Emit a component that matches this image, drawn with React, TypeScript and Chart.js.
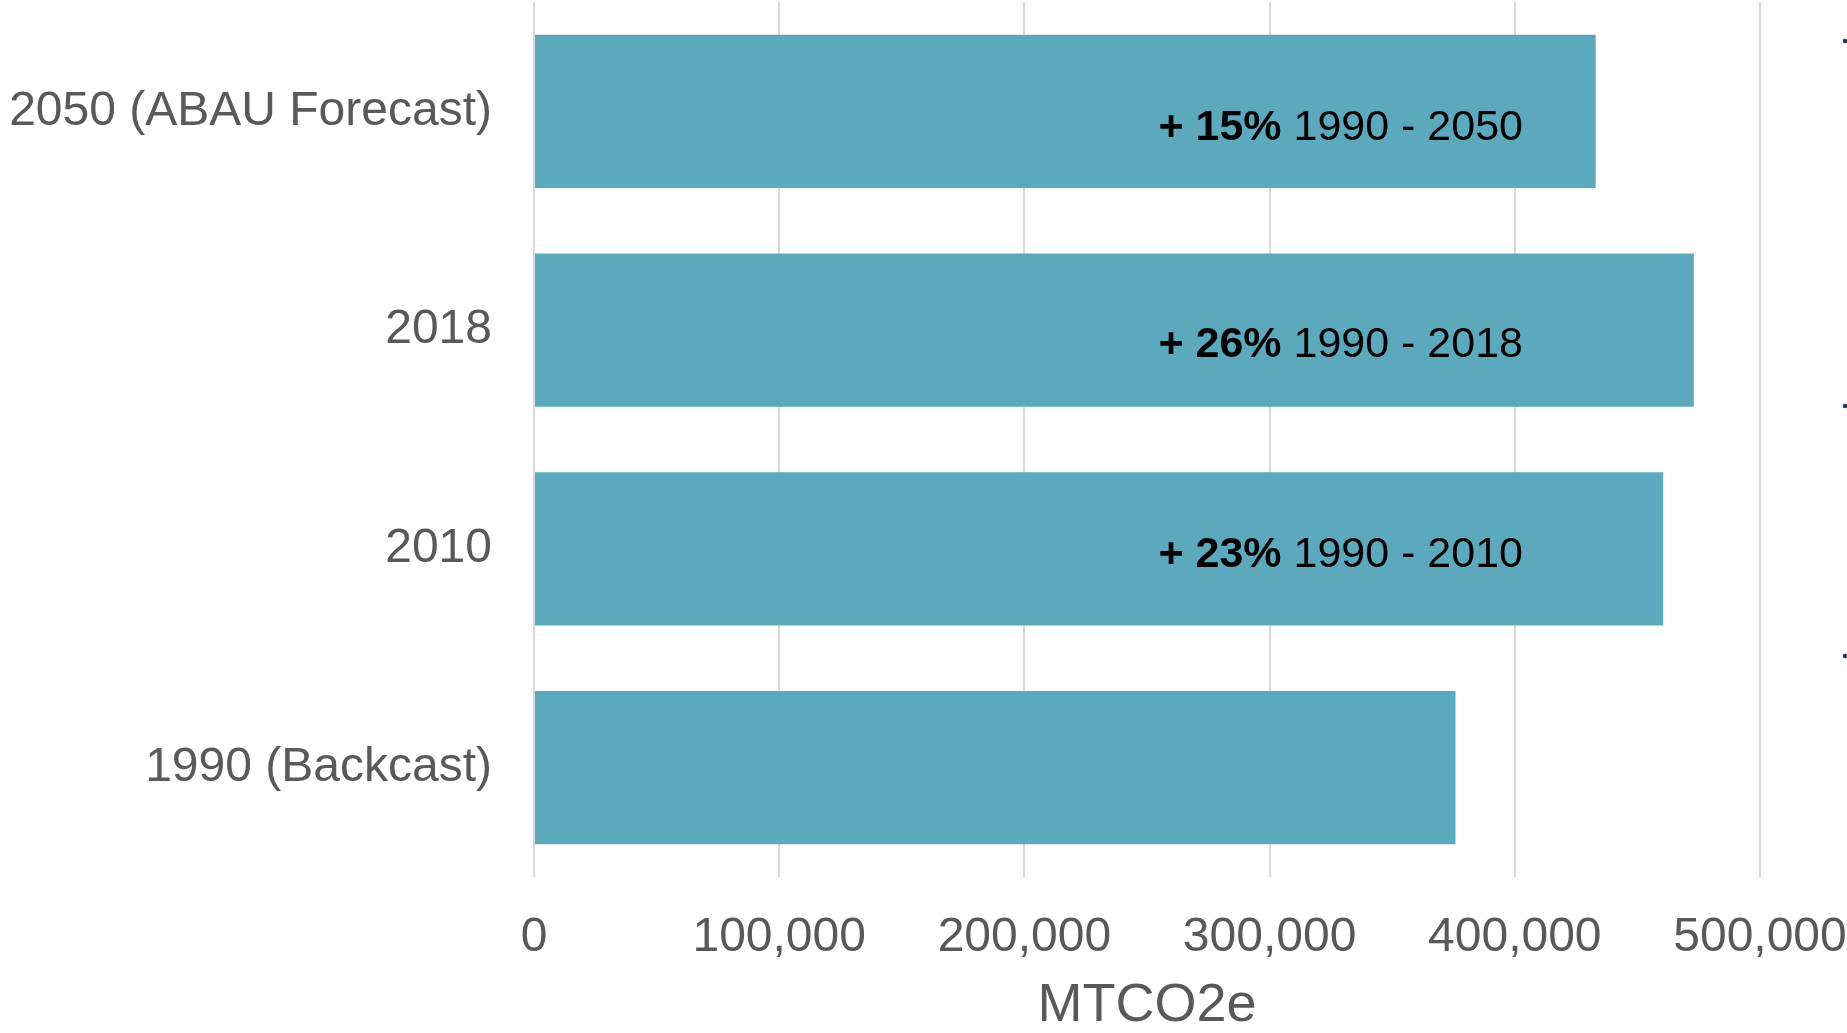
import React, { useEffect, useRef } from 'react';
import { Chart, registerables } from 'chart.js';

Chart.register(...registerables);

const categories = ['2050 (ABAU Forecast)', '2018', '2010', '1990 (Backcast)'];
const emissions = [433000, 473000, 460500, 375800];
const changeBold = ['+ 15%', '+ 26%', '+ 23%', ''];
const changeRange = ['1990 - 2050', '1990 - 2018', '1990 - 2010', ''];
const xTicks = [0, 100000, 200000, 300000, 400000, 500000];
const axisTitle = 'MTCO2e';

const FONT = '"Liberation Sans", Arial, Helvetica, sans-serif';
const W = 1847;
const H = 1033;

const annotationPlugin = {
  id: 'changeLabels',
  afterDatasetsDraw(chart: any, _args: any, opts: any) {
    const ctx = chart.ctx;
    const meta = chart.getDatasetMeta(0);
    const xs = chart.scales.x;
    const cx = xs.getPixelForValue(opts.centerValue);
    meta.data.forEach((bar: any, i: number) => {
      const b = changeBold[i];
      const r = changeRange[i];
      if (!b) return;
      ctx.save();
      ctx.fillStyle = '#000000';
      ctx.textBaseline = 'alphabetic';
      ctx.textAlign = 'left';
      const size = opts.size;
      ctx.font = `bold ${size}px ${FONT}`;
      const bw = ctx.measureText(b + ' ').width;
      ctx.font = `${size}px ${FONT}`;
      const rw = ctx.measureText(r).width;
      const total = bw + rw;
      const x0 = cx - total / 2;
      const y = bar.y + opts.dy[i];
      ctx.font = `bold ${size}px ${FONT}`;
      ctx.fillText(b + ' ', x0, y);
      ctx.font = `${size}px ${FONT}`;
      ctx.fillText(r, x0 + bw, y);
      ctx.restore();
    });
  },
};

const edgeDotsPlugin = {
  id: 'edgeDots',
  afterDraw(chart: any, _args: any, opts: any) {
    const ctx = chart.ctx;
    ctx.save();
    ctx.fillStyle = '#2a3350';
    (opts.ys as number[]).forEach((y) => {
      ctx.beginPath();
      ctx.arc(opts.x, y, 2.3, 0, Math.PI * 2);
      ctx.fill();
    });
    ctx.restore();
  },
};

export default function App() {
  const canvasRef = useRef<HTMLCanvasElement | null>(null);

  useEffect(() => {
    const canvas = canvasRef.current;
    if (!canvas) return;
    const chart = new Chart(canvas, {
      type: 'bar',
      data: {
        labels: categories,
        datasets: [
          {
            data: emissions,
            backgroundColor: '#5CA9BD',
            borderWidth: 0,
            barPercentage: 0.7,
            categoryPercentage: 1,
          },
        ],
      },
      plugins: [annotationPlugin, edgeDotsPlugin],
      options: {
        indexAxis: 'y',
        animation: false,
        responsive: false,
        devicePixelRatio: 1,
        layout: { padding: { top: 2, right: 87, left: 0, bottom: 0 } },
        plugins: {
          legend: { display: false },
          tooltip: { enabled: false },
          changeLabels: { centerValue: 329000, size: 43, dy: [28.5, 26.5, 18, 0] },
          edgeDots: { x: 1845, ys: [41, 406, 656] },
        } as any,
        scales: {
          x: {
            type: 'linear',
            min: 0,
            max: 500000,
            afterBuildTicks: (s: any) => {
              s.ticks = xTicks.map((v) => ({ value: v }));
            },
            afterFit: (s: any) => {
              s.height = 156;
              s.paddingLeft = 0;
              s.paddingRight = 0;
            },
            grid: { color: '#D9D9D9', lineWidth: 2, drawTicks: false },
            border: { display: false },
            ticks: {
              color: '#595959',
              font: { family: FONT, size: 48 },
              padding: 32,
              maxRotation: 0,
              autoSkip: false,
              callback: (v: any) => Number(v).toLocaleString('en-US'),
            },
            title: {
              display: true,
              text: axisTitle,
              color: '#595959',
              font: { family: FONT, size: 54, lineHeight: 1 },
              padding: { top: 0, bottom: 0 },
            },
          },
          y: {
            grid: { display: false, drawTicks: false },
            border: { display: false },
            afterFit: (s: any) => {
              s.width = 534;
              s.paddingTop = 0;
              s.paddingBottom = 0;
            },
            ticks: {
              color: '#595959',
              font: { family: FONT, size: 48 },
              padding: 42,
            },
          },
        },
      } as any,
    });
    return () => chart.destroy();
  }, []);

  return (
    <div style={{ position: 'absolute', left: 0, top: 0, width: W, height: H, background: '#ffffff' }}>
      <canvas ref={canvasRef} width={W} height={H} style={{ display: 'block', width: W, height: H }} />
    </div>
  );
}
